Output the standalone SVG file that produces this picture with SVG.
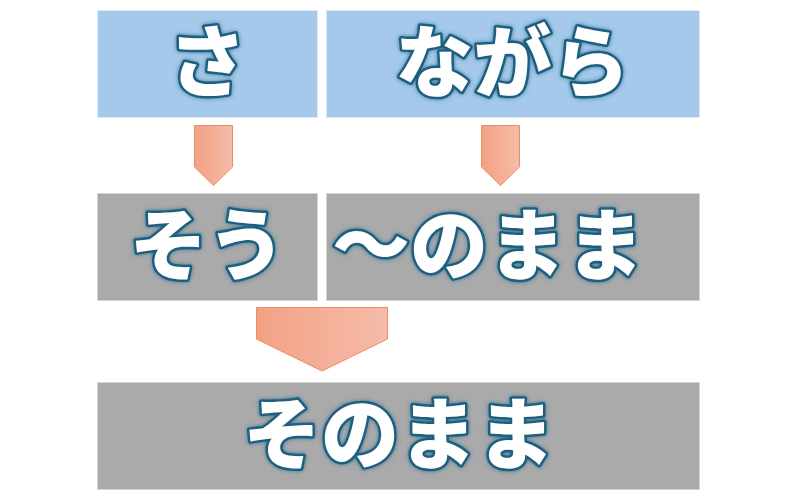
<svg xmlns="http://www.w3.org/2000/svg" width="800" height="499" viewBox="0 0 800 499">
<defs>
<linearGradient id="ag" x1="0" y1="0" x2="1" y2="0">
<stop offset="0" stop-color="#F3A184"/>
<stop offset="1" stop-color="#F5BCAA"/>
</linearGradient>
<filter id="glow" x="-20%" y="-20%" width="140%" height="140%">
<feGaussianBlur in="SourceAlpha" stdDeviation="2.2" result="b"/>
<feFlood flood-color="#2d7398" flood-opacity="0.9"/>
<feComposite in2="b" operator="in" result="g"/>
<feMerge><feMergeNode in="g"/><feMergeNode in="SourceGraphic"/></feMerge>
</filter>
<style>
.blue{fill:#A5C9EA;stroke:#DCE8F4;stroke-width:1}
.gray{fill:#AAAAAA;stroke:#D4D4D4;stroke-width:1}
.arr{fill:url(#ag);stroke:#F08A60;stroke-width:1}
.t{font-family:"Noto Sans CJK JP","Noto Sans CJK SC",sans-serif;font-weight:900;font-size:78px;fill:#FFFFFF;stroke:#1E5E7E;stroke-width:5;stroke-linejoin:round;paint-order:stroke;filter:url(#glow)}
</style>
</defs>
<rect width="800" height="499" fill="#FFFFFF"/>
<g id="node-sa">
<rect class="blue" x="97.5" y="10.5" width="220" height="107"/>
<text class="t" x="207.5" y="91" text-anchor="middle">さ</text>
</g>
<g id="node-nagara">
<rect class="blue" x="326.5" y="10.5" width="373" height="107"/>
<text class="t" x="512.5" y="91" text-anchor="middle">ながら</text>
</g>
<g id="node-sou">
<rect class="gray" x="97.5" y="193.5" width="220" height="107"/>
<text class="t" x="207.5" y="274" text-anchor="middle">そう</text>
</g>
<g id="node-nomama">
<rect class="gray" x="326.5" y="193.5" width="373" height="107"/>
<text class="t" x="332" y="274">～のまま</text>
</g>
<g id="node-sonomama">
<rect class="gray" x="97.5" y="382.5" width="602" height="107"/>
<text class="t" x="399" y="463" text-anchor="middle">そのまま</text>
</g>
<g id="connectors">
<polygon class="arr" points="194.5,125.5 232.5,125.5 232.5,167 213.5,185.5 194.5,167"/>
<polygon class="arr" points="481.5,125.5 519.5,125.5 519.5,167 500.5,185.5 481.5,167"/>
<polygon class="arr" points="256.5,307.5 387.5,307.5 387.5,339 322,371 256.5,339"/>
</g>
</svg>
